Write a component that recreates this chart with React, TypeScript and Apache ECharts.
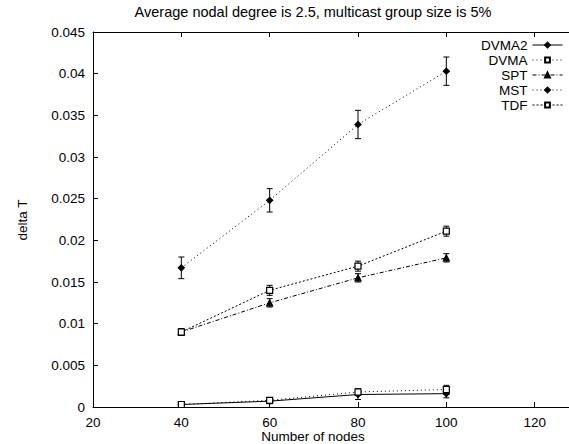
import React, { useEffect, useRef } from "react";
import * as echarts from "echarts";

const nodes = [40, 60, 80, 100];
const seriesNames = ["DVMA2", "DVMA", "SPT", "MST", "TDF"];
const dvma2 = [0.0003, 0.0007, 0.0015, 0.0016];
const dvma2Err = [0.0002, 0.0003, 0.0006, 0.0005];
const dvma = [0.0003, 0.0008, 0.0018, 0.0021];
const dvmaErr = [0.0002, 0.0003, 0.0004, 0.0005];
const spt = [0.009, 0.0125, 0.0155, 0.0179];
const sptErr = [0.0004, 0.0005, 0.0005, 0.0005];
const mst = [0.0167, 0.0248, 0.0339, 0.0403];
const mstErr = [0.0013, 0.0014, 0.0017, 0.0017];
const tdf = [0.009, 0.014, 0.0169, 0.0211];
const tdfErr = [0.0004, 0.0006, 0.0006, 0.0006];
const yTicks = ["0", "0.005", "0.01", "0.015", "0.02", "0.025", "0.03", "0.035", "0.04", "0.045"];

const FONT = "Liberation Sans, Arial, sans-serif";

export default function App() {
  const ref = useRef<HTMLDivElement>(null);
  useEffect(() => {
    if (!ref.current) return;
    const chart = echarts.init(ref.current, undefined, { renderer: "svg" });
    const values = [dvma2, dvma, spt, mst, tdf];
    const errs = [dvma2Err, dvmaErr, sptErr, mstErr, tdfErr];
    const symbols = ["diamond", "rect", "triangle", "diamond", "rect"];
    const fills = ["#000", "#fff", "#000", "#000", "#fff"];
    const dashes: any[] = ["solid", [1, 3], [4, 2, 1, 2], [1, 3], [2, 2]];
    const lineSeries = seriesNames.map((name, i) => ({
      name,
      type: "line",
      data: nodes.map((x, j) => [x, values[i][j]]),
      symbol: symbols[i],
      symbolSize: 6,
      showSymbol: true,
      itemStyle: { color: fills[i], borderColor: "#000", borderWidth: 1.2 },
      lineStyle: { color: "#000", width: 1, type: dashes[i] },
      z: 3,
    }));
    const errSeries = seriesNames.map((name, i) => ({
      type: "custom",
      data: nodes.map((x, j) => [x, values[i][j] - errs[i][j], values[i][j] + errs[i][j]]),
      renderItem: (params: any, api: any) => {
        const x = api.value(0);
        const lo = api.coord([x, api.value(1)]);
        const hi = api.coord([x, api.value(2)]);
        const s = { stroke: "#000", lineWidth: 1 };
        return {
          type: "group",
          children: [
            { type: "line", shape: { x1: lo[0], y1: lo[1], x2: hi[0], y2: hi[1] }, style: s },
            { type: "line", shape: { x1: lo[0] - 3, y1: lo[1], x2: lo[0] + 3, y2: lo[1] }, style: s },
            { type: "line", shape: { x1: hi[0] - 3, y1: hi[1], x2: hi[0] + 3, y2: hi[1] }, style: s },
          ],
        };
      },
      z: 2,
      silent: true,
    }));
    const legends = seriesNames.map((name, i) => ({
      data: [name],
      right: 6,
      top: 38 + i * 15,
      align: "right",
      itemWidth: 30,
      itemHeight: 6,
      itemGap: 5,
      padding: 0,
      selectedMode: false,
      lineStyle: { width: 1 },
      textStyle: { fontFamily: FONT, fontSize: 13.5, lineHeight: 13, color: "#000" },
    }));
    chart.setOption({
      animation: false,
      backgroundColor: "#fff",
      textStyle: { fontFamily: FONT },
      grid: { left: 93, top: 32, width: 530, height: 375, outerBoundsMode: "none", containLabel: false },
      legend: legends,
      xAxis: [
        {
          type: "value",
          min: 20,
          max: 140,
          interval: 20,
          axisLine: { show: true, lineStyle: { color: "#000", width: 1 } },
          axisTick: { show: true, inside: true, length: 5, lineStyle: { color: "#000" } },
          axisLabel: { color: "#000", fontSize: 13.5, fontFamily: FONT, margin: 8, showMaxLabel: false },
          splitLine: { show: false },
        },
        {
          type: "value",
          position: "top",
          min: 20,
          max: 140,
          interval: 20,
          axisLine: { show: true, lineStyle: { color: "#000", width: 1 } },
          axisTick: { show: true, inside: true, length: 5, lineStyle: { color: "#000" } },
          axisLabel: { show: false },
          splitLine: { show: false },
        },
      ],
      yAxis: {
        type: "value",
        min: 0,
        max: 0.045,
        interval: 0.005,
        axisLine: { show: true, lineStyle: { color: "#000", width: 1 } },
        axisTick: { show: true, inside: true, length: 5, lineStyle: { color: "#000" } },
        axisLabel: {
          color: "#000",
          fontSize: 13.5,
          fontFamily: FONT,
          margin: 8,
          formatter: (v: number) => yTicks[Math.round(v / 0.005)] ?? String(v),
        },
        splitLine: { show: false },
      },
      graphic: [
        {
          type: "text",
          x: 313,
          y: 12,
          style: {
            text: "Average nodal degree is 2.5, multicast group size is 5%",
            fontFamily: FONT,
            fontSize: 14.5,
            fill: "#000",
            align: "center",
            verticalAlign: "middle",
          },
        },
        {
          type: "text",
          x: 313,
          y: 436,
          style: {
            text: "Number of nodes",
            fontFamily: FONT,
            fontSize: 13.5,
            fill: "#000",
            align: "center",
            verticalAlign: "middle",
          },
        },
        {
          type: "text",
          x: 22,
          y: 220,
          rotation: Math.PI / 2,
          style: {
            text: "delta T",
            fontFamily: FONT,
            fontSize: 13.5,
            fill: "#000",
            align: "center",
            verticalAlign: "middle",
          },
        },
      ],
      series: [...errSeries, ...lineSeries],
    });
    return () => chart.dispose();
  }, []);
  return <div ref={ref} style={{ width: 569, height: 444, position: "absolute", left: 0, top: 0 }} />;
}
